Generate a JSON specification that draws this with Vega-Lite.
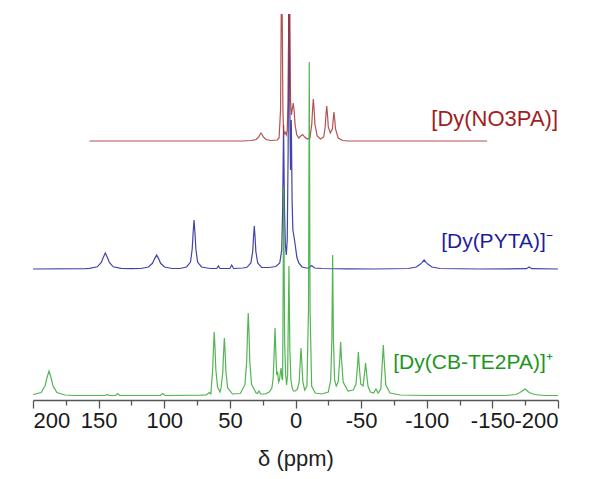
{
  "$schema": "https://vega.github.io/schema/vega-lite/v6.json",
  "autosize": {"type": "none"},
  "width": 525,
  "height": 386,
  "padding": {"left": 33, "top": 14, "right": 46, "bottom": 79},
  "background": "white",
  "config": {"view": {"stroke": null}, "font": "Liberation Sans"},
  "datasets": {
    "red": [
      {"ppm":157,"v":259},{"ppm":40,"v":259},{"ppm":34,"v":259.5},{"ppm":30,"v":260.5},{"ppm":28,"v":263},{"ppm":27,"v":265.5},{"ppm":26.3,"v":267},{"ppm":25.5,"v":265.5},{"ppm":24.5,"v":263},{"ppm":22.5,"v":260.5},{"ppm":19,"v":259.5},{"ppm":14,"v":260},{"ppm":12.5,"v":262},{"ppm":11.4,"v":290},{"ppm":10.9,"v":380},{"ppm":10.5,"v":450},{"ppm":10.1,"v":380},{"ppm":9.6,"v":290},{"ppm":9.0,"v":265},{"ppm":8.0,"v":268},{"ppm":7.0,"v":265},{"ppm":6.3,"v":270},{"ppm":5.6,"v":300},{"ppm":5.1,"v":390},{"ppm":4.7,"v":450},{"ppm":4.3,"v":390},{"ppm":3.8,"v":300},{"ppm":3.1,"v":285},{"ppm":2.3,"v":292},{"ppm":1.7,"v":297},{"ppm":1.1,"v":290},{"ppm":0.3,"v":275},{"ppm":-1,"v":265},{"ppm":-2.5,"v":262},{"ppm":-4,"v":264},{"ppm":-5.5,"v":265.5},{"ppm":-7,"v":263},{"ppm":-9,"v":261},{"ppm":-11,"v":262},{"ppm":-12.4,"v":276},{"ppm":-13,"v":290},{"ppm":-13.6,"v":301},{"ppm":-14.2,"v":290},{"ppm":-14.8,"v":276},{"ppm":-16.5,"v":264},{"ppm":-19,"v":261},{"ppm":-21.5,"v":263},{"ppm":-22.6,"v":273},{"ppm":-23.2,"v":285},{"ppm":-23.8,"v":294},{"ppm":-24.4,"v":285},{"ppm":-25,"v":273},{"ppm":-26.5,"v":267},{"ppm":-28.1,"v":271},{"ppm":-28.7,"v":280},{"ppm":-29.3,"v":288},{"ppm":-29.9,"v":280},{"ppm":-30.5,"v":271},{"ppm":-32.5,"v":262},{"ppm":-36,"v":259.5},{"ppm":-40,"v":259},{"ppm":-146,"v":259}
    ],
    "blue": [
      {"ppm":200,"v":131},{"ppm":160,"v":131.3},{"ppm":157,"v":131.6},{"ppm":151,"v":133.2},{"ppm":148,"v":137.6},{"ppm":146.4,"v":142.8},{"ppm":144.9,"v":147},{"ppm":143.4,"v":142.8},{"ppm":141.8,"v":137.6},{"ppm":138.9,"v":133.2},{"ppm":133,"v":131.6},{"ppm":125,"v":131.3},{"ppm":118,"v":131.5},{"ppm":112,"v":133},{"ppm":109,"v":136.7},{"ppm":107.3,"v":141.4},{"ppm":105.8,"v":145},{"ppm":104.3,"v":141.4},{"ppm":102.8,"v":136.7},{"ppm":99.8,"v":133},{"ppm":94,"v":131.5},{"ppm":88,"v":131.5},{"ppm":83,"v":133},{"ppm":80,"v":137.9},{"ppm":78.7,"v":151},{"ppm":78.0,"v":167.3},{"ppm":77.3,"v":180},{"ppm":76.6,"v":167.3},{"ppm":75.9,"v":151},{"ppm":74.6,"v":137.9},{"ppm":71.6,"v":133},{"ppm":65,"v":131.5},{"ppm":60,"v":131.5},{"ppm":58.8,"v":134},{"ppm":57.6,"v":131.5},{"ppm":50,"v":131.5},{"ppm":48.6,"v":135},{"ppm":47.2,"v":131.5},{"ppm":40,"v":132},{"ppm":37,"v":132.7},{"ppm":34,"v":137},{"ppm":32.6,"v":148.6},{"ppm":32.0,"v":162.8},{"ppm":31.4,"v":174},{"ppm":30.8,"v":162.8},{"ppm":30.2,"v":148.6},{"ppm":28.8,"v":137},{"ppm":25.8,"v":132.7},{"ppm":20,"v":132.5},{"ppm":15,"v":133.5},{"ppm":12,"v":137},{"ppm":10.5,"v":150},{"ppm":9.8,"v":190},{"ppm":9.1,"v":275},{"ppm":8.4,"v":190},{"ppm":7.7,"v":155},{"ppm":7.0,"v":145},{"ppm":6.3,"v":160},{"ppm":5.6,"v":250},{"ppm":5.0,"v":450},{"ppm":4.4,"v":300},{"ppm":3.8,"v":230},{"ppm":3.2,"v":280},{"ppm":2.6,"v":200},{"ppm":2.0,"v":170},{"ppm":1.1,"v":163},{"ppm":0.2,"v":155},{"ppm":-1,"v":143},{"ppm":-2.5,"v":137},{"ppm":-5,"v":133},{"ppm":-8,"v":132},{"ppm":-10,"v":132},{"ppm":-12.3,"v":134.5},{"ppm":-14.5,"v":132},{"ppm":-20,"v":131.5},{"ppm":-40,"v":131.2},{"ppm":-60,"v":131},{"ppm":-86,"v":131.5},{"ppm":-92,"v":133},{"ppm":-95,"v":135.7},{"ppm":-96.5,"v":137.7},{"ppm":-98,"v":140},{"ppm":-99.5,"v":137.7},{"ppm":-101,"v":135.7},{"ppm":-104,"v":133},{"ppm":-110,"v":131.5},{"ppm":-140,"v":131},{"ppm":-176,"v":131.3},{"ppm":-178,"v":133},{"ppm":-180,"v":131.3},{"ppm":-200,"v":131}
    ],
    "green": [
      {"ppm":200,"v":5.5},{"ppm":193.8,"v":7.5},{"ppm":190.8,"v":14.3},{"ppm":189.3,"v":22.5},{"ppm":187.8,"v":29},{"ppm":186.3,"v":22.5},{"ppm":184.8,"v":14.3},{"ppm":181.8,"v":7.5},{"ppm":175.8,"v":5},{"ppm":168,"v":4.5},{"ppm":145,"v":4.5},{"ppm":143.4,"v":5.5},{"ppm":141.8,"v":4.5},{"ppm":137,"v":4.5},{"ppm":135.5,"v":6.5},{"ppm":134,"v":4.5},{"ppm":103,"v":4.5},{"ppm":101.2,"v":6.5},{"ppm":99.4,"v":4.5},{"ppm":72,"v":4.8},{"ppm":68,"v":5},{"ppm":65.7,"v":7.5},{"ppm":64.5,"v":6},{"ppm":63.1,"v":30.2},{"ppm":62.5,"v":51.4},{"ppm":61.9,"v":68},{"ppm":61.3,"v":51.4},{"ppm":60.7,"v":30.2},{"ppm":59.4,"v":13},{"ppm":57.5,"v":8},{"ppm":56.7,"v":12.1},{"ppm":55.4,"v":27.8},{"ppm":54.8,"v":46.9},{"ppm":54.2,"v":62},{"ppm":53.6,"v":46.9},{"ppm":53.0,"v":27.8},{"ppm":51.7,"v":12.1},{"ppm":48,"v":6},{"ppm":42,"v":6.5},{"ppm":38.5,"v":15.6},{"ppm":37.2,"v":38},{"ppm":36.6,"v":65.4},{"ppm":36.0,"v":87},{"ppm":35.4,"v":65.4},{"ppm":34.8,"v":38},{"ppm":33.5,"v":15.6},{"ppm":30,"v":7},{"ppm":29,"v":6.5},{"ppm":27.8,"v":9},{"ppm":26.5,"v":6},{"ppm":23,"v":6},{"ppm":20,"v":8},{"ppm":18,"v":12},{"ppm":17,"v":22},{"ppm":16.3,"v":45},{"ppm":15.6,"v":72},{"ppm":14.9,"v":45},{"ppm":14.3,"v":25},{"ppm":13.6,"v":27},{"ppm":12.9,"v":18},{"ppm":12.2,"v":20},{"ppm":11.6,"v":27},{"ppm":11.0,"v":32},{"ppm":10.4,"v":22},{"ppm":9.8,"v":20},{"ppm":9.0,"v":213},{"ppm":8.3,"v":60},{"ppm":7.5,"v":25},{"ppm":6.8,"v":15},{"ppm":6.0,"v":25},{"ppm":5.0,"v":134},{"ppm":4.3,"v":50},{"ppm":3.5,"v":20},{"ppm":2.5,"v":12},{"ppm":1.5,"v":9},{"ppm":0,"v":9},{"ppm":-1.5,"v":11},{"ppm":-2.8,"v":18},{"ppm":-3.6,"v":38},{"ppm":-4.2,"v":52},{"ppm":-4.8,"v":38},{"ppm":-5.6,"v":18},{"ppm":-7,"v":10},{"ppm":-8.7,"v":14},{"ppm":-9.9,"v":90},{"ppm":-10.5,"v":338},{"ppm":-11.1,"v":90},{"ppm":-12.3,"v":14},{"ppm":-15,"v":7},{"ppm":-20,"v":6},{"ppm":-25,"v":8},{"ppm":-26.8,"v":20},{"ppm":-27.7,"v":60},{"ppm":-28.3,"v":145},{"ppm":-28.9,"v":60},{"ppm":-29.8,"v":20},{"ppm":-31,"v":14},{"ppm":-32.5,"v":18},{"ppm":-33.8,"v":42},{"ppm":-34.4,"v":58},{"ppm":-35,"v":42},{"ppm":-36.3,"v":18},{"ppm":-40,"v":9},{"ppm":-44,"v":10},{"ppm":-46.1,"v":16},{"ppm":-47.3,"v":35},{"ppm":-47.9,"v":48},{"ppm":-48.5,"v":35},{"ppm":-49.7,"v":16},{"ppm":-51.5,"v":14},{"ppm":-52.8,"v":29},{"ppm":-53.4,"v":37},{"ppm":-54,"v":29},{"ppm":-55.2,"v":14},{"ppm":-57,"v":8},{"ppm":-59.5,"v":7},{"ppm":-61.3,"v":11},{"ppm":-63,"v":7},{"ppm":-65,"v":11},{"ppm":-66.3,"v":41},{"ppm":-66.9,"v":55},{"ppm":-67.5,"v":41},{"ppm":-68.8,"v":15},{"ppm":-72,"v":7},{"ppm":-80,"v":5},{"ppm":-100,"v":4.5},{"ppm":-160,"v":4.5},{"ppm":-168,"v":5.5},{"ppm":-171,"v":7.5},{"ppm":-174.9,"v":11},{"ppm":-178,"v":7.5},{"ppm":-182,"v":5.5},{"ppm":-190,"v":4.5},{"ppm":-200,"v":4.5}
    ],
    "labels": [
      {"s":"red","label":"[Dy(NO3PA)]","ppm":-200,"v":281},
      {"s":"blue","label":"[Dy(PYTA)]⁻","ppm":-196,"v":158},
      {"s":"green","label":"[Dy(CB-TE2PA)]⁺","ppm":-196,"v":37}
    ]
  },
  "encoding": {
    "x": {
      "field": "ppm", "type": "quantitative",
      "scale": {"domain": [-200, 200], "reverse": true, "nice": false, "zero": false},
      "axis": {
        "title": "δ (ppm)",
        "titleFont": "Liberation Sans", "titleFontSize": 22, "titleFontWeight": "normal", "titleColor": "#222",
        "titlePadding": 17,
        "values": [200,175,150,125,100,75,50,25,0,-25,-50,-75,-100,-125,-150,-175,-200],
        "labelExpr": "datum.value % 50 === 0 ? replace(datum.label, '−', '-') : ''",
        "labelOverlap": false,
        "labelFont": "Liberation Sans", "labelFontSize": 22, "labelColor": "#1a1a1a", "labelPadding": 2,
        "tickSize": {"condition": {"test": "datum.value % 50 === 0", "value": 8}, "value": 5},
        "tickColor": "#555", "tickWidth": 1.3,
        "domainColor": "#555", "domainWidth": 1.5,
        "grid": false
      }
    },
    "y": {
      "field": "v", "type": "quantitative",
      "scale": {"domain": [0, 386], "nice": false, "zero": false},
      "axis": null
    }
  },
  "layer": [
    {"data": {"name": "blue"}, "mark": {"type": "line", "color": "#2f2fa0", "strokeWidth": 1.2, "clip": true, "opacity": 0.9}},
    {"data": {"name": "red"}, "mark": {"type": "line", "color": "#a83232", "strokeWidth": 1.2, "clip": true, "opacity": 0.85}},
    {"data": {"name": "green"}, "mark": {"type": "line", "color": "#35a835", "strokeWidth": 1.2, "clip": true, "opacity": 0.85}},
    {"data": {"name": "labels"}, "transform": [{"filter": "datum.s === 'red'"}], "mark": {"type": "text", "align": "right", "baseline": "middle", "fontSize": 22, "font": "Liberation Sans", "color": "#a01e1e"}, "encoding": {"text": {"field": "label"}}},
    {"data": {"name": "labels"}, "transform": [{"filter": "datum.s === 'blue'"}], "mark": {"type": "text", "align": "right", "baseline": "middle", "fontSize": 21, "font": "Liberation Sans", "color": "#1e1e9c"}, "encoding": {"text": {"field": "label"}}},
    {"data": {"name": "labels"}, "transform": [{"filter": "datum.s === 'green'"}], "mark": {"type": "text", "align": "right", "baseline": "middle", "fontSize": 21, "font": "Liberation Sans", "color": "#1e961e"}, "encoding": {"text": {"field": "label"}}}
  ]
}
